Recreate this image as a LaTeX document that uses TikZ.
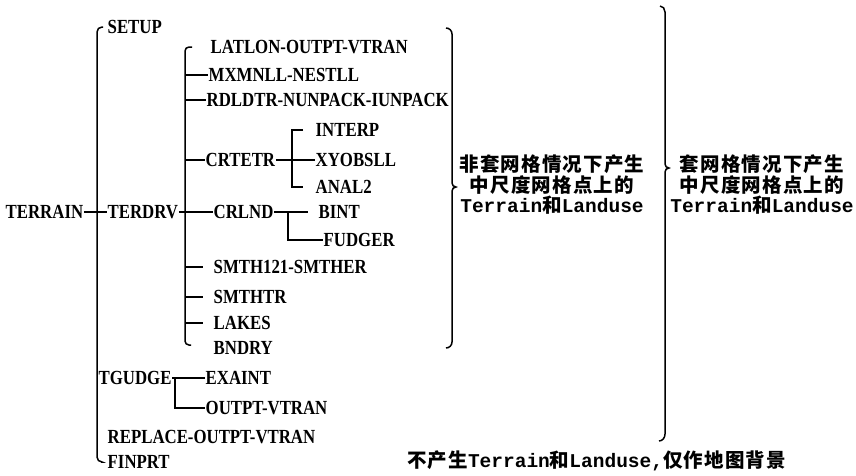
\documentclass[tikz,border=0pt]{standalone}
\usepackage{fontspec}
\setmainfont{Liberation Serif}[FakeStretch=0.84]
\newfontfamily\cjk{Noto Sans CJK SC}[LetterSpace=6]
\newfontfamily\latm{Liberation Mono}
\newcommand\zh[1]{{\cjk\bfseries\fontsize{19.5}{20.5}\selectfont #1}}
\newcommand\lm[1]{{\latm\bfseries\fontsize{19.5}{20.5}\selectfont #1}}
\begin{document}
\begin{tikzpicture}[x=1pt,y=-1pt,
  lbl/.style={anchor=west,inner sep=0.5pt,font=\fontsize{20}{20}\selectfont\bfseries},
  wire/.style={line width=1.5pt},
  note/.style={align=center,inner sep=0pt,font=\fontsize{19.5}{20.5}\selectfont}]
\useasboundingbox[fill=white] (0,0) rectangle (856,475);

% labels
\node[lbl] (terrain) at (5,212) {TERRAIN};
\node[lbl] (setup)   at (107,27) {SETUP};
\node[lbl] (terdrv)  at (107,212) {TERDRV};
\node[lbl] (latlon)  at (210,47) {LATLON-OUTPT-VTRAN};
\node[lbl] (mxmnll)  at (208,75) {MXMNLL-NESTLL};
\node[lbl] (rdldtr)  at (206,100) {RDLDTR-NUNPACK-IUNPACK};
\node[lbl] (crtetr)  at (205,160) {CRTETR};
\node[lbl] (interp)  at (315,130) {INTERP};
\node[lbl] (xyobsll) at (315,160) {XYOBSLL};
\node[lbl] (anal2)   at (315,187) {ANAL2};
\node[lbl] (crlnd)   at (213,212) {CRLND};
\node[lbl] (bint)    at (318,212) {BINT};
\node[lbl] (fudger)  at (323,240) {FUDGER};
\node[lbl] (smth121) at (213,267) {SMTH121-SMTHER};
\node[lbl] (smthtr)  at (213,297) {SMTHTR};
\node[lbl] (lakes)   at (213,323) {LAKES};
\node[lbl] (bndry)   at (213,348) {BNDRY};
\node[lbl] (tgudge)  at (98,378) {TGUDGE};
\node[lbl] (exaint)  at (205,378) {EXAINT};
\node[lbl] (outpt)   at (205,408) {OUTPT-VTRAN};
\node[lbl] (replace) at (107,437) {REPLACE-OUTPT-VTRAN};
\node[lbl] (finprt)  at (107,462) {FINPRT};

% notes
\node[note] (n1) at (552,185) {\zh{非套网格情况下产生}\\\zh{中尺度网格点上的}\\\lm{Terrain}\zh{和}\lm{Landuse}};
\node[note] (n2) at (762,185) {\zh{套网格情况下产生}\\\zh{中尺度网格点上的}\\\lm{Terrain}\zh{和}\lm{Landuse}};
\node[note,anchor=west] (n3) at (407,461) {\zh{不产生}\lm{Terrain}\zh{和}\lm{Landuse,}\zh{仅作地图背景}};

% bracket 1
\coordinate (b1) at (97,0);
\draw[wire,rounded corners=5pt] ([xshift=-4pt]setup.west) -- (b1 |- setup.west) -- (b1 |- finprt.west) -- ([xshift=-6pt]finprt.west);
\draw[wire] (terrain.east) -- (terdrv.west);

% bracket 2
\coordinate (b2) at (185,0);
\draw[wire,rounded corners=4pt] ([xshift=-18pt]latlon.west) -- (b2 |- latlon.west) -- ([yshift=3pt]b2 |- bndry.west) -- ([xshift=-22pt,yshift=3pt]bndry.west);
\draw[wire] (b2 |- mxmnll.west) -- (mxmnll.west);
\draw[wire] (b2 |- rdldtr.west) -- (rdldtr.west);
\draw[wire] (b2 |- crtetr.west) -- (crtetr.west);
\draw[wire] (terdrv.east) -- (crlnd.west);
\draw[wire] (b2 |- smth121.west) -- ([xshift=-10pt]smth121.west);
\draw[wire] (b2 |- smthtr.west) -- ([xshift=-10pt]smthtr.west);
\draw[wire] (b2 |- lakes.west) -- ([xshift=-10pt]lakes.west);

% bracket 3
\coordinate (b3) at (292,0);
\draw[wire] (crtetr.east) -- (xyobsll.west);
\draw[wire] ([xshift=-12pt]interp.west) -- (b3 |- interp.west) -- (b3 |- anal2.west) -- ([xshift=-12pt]anal2.west);

% crlnd branch
\coordinate (b4) at (288,0);
\draw[wire] (crlnd.east) -- ([xshift=-10pt]bint.west);
\draw[wire] (b4 |- crlnd.east) -- (b4 |- fudger.west) -- (fudger.west);

% tgudge branch
\coordinate (b5) at (175,0);
\draw[wire] (tgudge.east) -- (exaint.west);
\draw[wire] (b5 |- exaint.west) -- (b5 |- outpt.west) -- (outpt.west);

% right braces
\draw[wire] (446,28) to[out=0,in=90] (452,34) -- (452,183) to[out=-90,in=180] (456,187) to[out=180,in=90] (452,191) -- (452,342) to[out=-90,in=0] (446,348);
\draw[wire] (660,6) to[out=0,in=90] (665,12) -- (665,164) to[out=-90,in=180] (669,168) to[out=180,in=90] (665,172) -- (665,434) to[out=-90,in=0] (659,441);
\end{tikzpicture}
\end{document}
